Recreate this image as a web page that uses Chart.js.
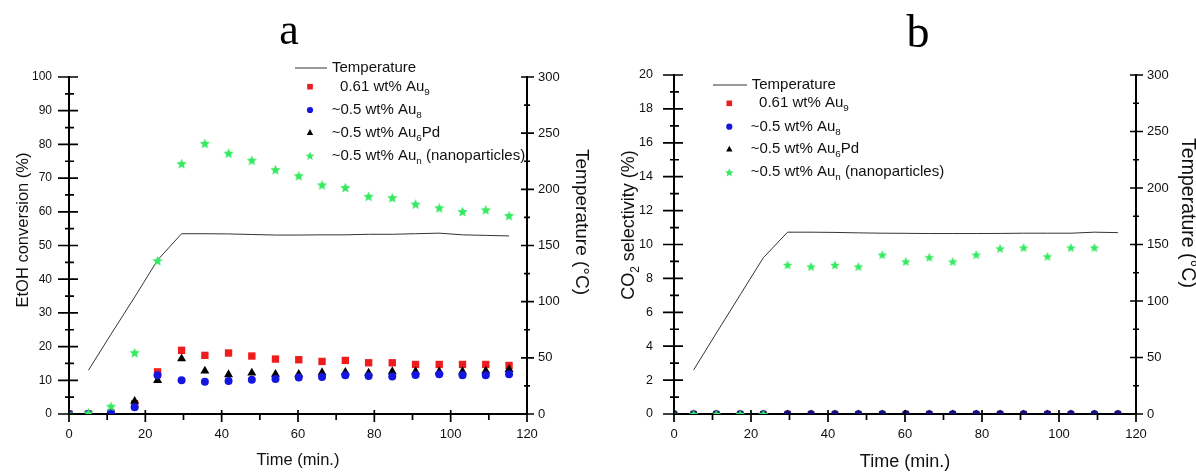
<!DOCTYPE html>
<html><head><meta charset="utf-8">
<script src="https://cdn.jsdelivr.net/npm/chart.js@4/dist/chart.umd.min.js"></script>
<style>
html,body{margin:0;padding:0;background:#fff;width:1196px;height:472px;overflow:hidden}
.wrap{position:absolute;top:0;width:598px;height:472px}
#wa{left:0}#wb{left:598px}
canvas{display:block}
</style></head><body>
<div class="wrap" id="wa"><canvas id="ca" width="598" height="472"></canvas></div>
<div class="wrap" id="wb"><canvas id="cb" width="598" height="472"></canvas></div>
<script>
// ---------- DATA ----------
const timeMin = [0, 5.1, 11, 17.2, 23.2, 29.5, 35.6, 41.8, 47.9, 54.1, 60.2, 66.3, 72.4, 78.5, 84.7, 90.8, 97, 103.1, 109.2, 115.3];
const tempTime = [5.1, 11, 17.2, 23.2, 29.5, 35.6, 41.8, 47.9, 54.1, 60.2, 66.3, 72.4, 78.5, 84.7, 90.8, 97, 103.1, 109.2, 115.3];

// panel a : EtOH conversion (%)
const convAu9   = [0, 0, 0.3, 3.0, 12.5, 18.9, 17.4, 18.1, 17.2, 16.3, 16.1, 15.6, 15.9, 15.2, 15.2, 14.7, 14.7, 14.7, 14.7, 14.4];
const convAu8   = [0, 0, 0.3, 2.0, 11.5, 10.0, 9.6, 9.8, 10.2, 10.4, 10.8, 11.0, 11.5, 11.3, 11.1, 11.6, 11.8, 11.5, 11.5, 11.8];
const convAu6Pd = [0, 0, 0.5, 3.8, 10.0, 16.4, 12.8, 11.7, 12.2, 11.8, 11.8, 12.3, 12.4, 12.2, 12.6, 12.6, 12.6, 12.6, 12.8, 13.2];
const convAuNP  = [0, 0.3, 2.3, 18.2, 45.5, 74.3, 80.3, 77.4, 75.3, 72.5, 70.7, 68.0, 67.2, 64.6, 64.2, 62.3, 61.2, 60.1, 60.6, 58.9];
const tempA     = [39, 71, 104, 137, 160.5, 160.5, 160.3, 159.8, 159.3, 159.3, 159.5, 159.5, 160, 160, 160.5, 161, 159.5, 159, 158.5];

// panel b : CO2 selectivity (%)
const selAu9    = [0, 0, 0, 0, 0, 0, 0, 0, 0, 0, 0, 0, 0, 0, 0, 0, 0, 0, 0, 0];
const selAu8    = [0, 0, 0, 0, 0, 0, 0, 0, 0, 0, 0, 0, 0, 0, 0, 0, 0, 0, 0, 0];
const selAu6Pd  = [0, 0, 0, 0, 0, 0, 0, 0, 0, 0, 0, 0, 0, 0, 0, 0, 0, 0, 0, 0];
const selAuNP   = [0, 0, 0, 0, 0, 8.8, 8.7, 8.8, 8.7, 9.4, 9.0, 9.25, 9.0, 9.4, 9.77, 9.82, 9.3, 9.82, 9.82, null];
const tempB     = [39, 71.6, 105.5, 138.3, 160.9, 160.9, 160.7, 160.3, 160, 159.9, 159.7, 159.7, 159.7, 159.8, 160, 160, 160, 160.9, 160.5];

const xTicks = [0, 20, 40, 60, 80, 100, 120];
const seriesLabels = ['Temperature', '  0.61 wt% Au_9', '~0.5 wt% Au_8', '~0.5 wt% Au_6Pd', '~0.5 wt% Au_n (nanoparticles)'];

// ---------- STYLE ----------
const FONT = '"Liberation Sans", Arial, sans-serif';
const C_RED = '#ee1c1c', C_BLUE = '#1515e0', C_BLACK = '#000000', C_GREEN = '#35ea60', C_LINE = '#333333', C_NAVY = '#101080';

function starPath(ctx, x, y, R, r) {
  ctx.beginPath();
  for (let i = 0; i < 10; i++) {
    const rad = (i % 2 === 0) ? R : r;
    const a = -Math.PI / 2 + i * Math.PI / 5;
    const px = x + rad * Math.cos(a), py = y + rad * Math.sin(a);
    if (i === 0) ctx.moveTo(px, py); else ctx.lineTo(px, py);
  }
  ctx.closePath();
}
function makeStar(R, color) {
  const c = document.createElement('canvas');
  const s = Math.ceil(R * 2 + 2);
  c.width = s; c.height = s;
  const g = c.getContext('2d');
  g.fillStyle = color;
  starPath(g, s / 2, s / 2 + R * 0.1, R, R * 0.45);
  g.fill();
  return c;
}
const starBig = makeStar(5.4, C_GREEN);
const starB = makeStar(5.0, C_GREEN);

function richParts(s) {
  const parts = []; let buf = '';
  for (let i = 0; i < s.length; i++) {
    if (s[i] === '_' && i + 1 < s.length) {
      if (buf) parts.push({ t: buf }); buf = '';
      parts.push({ t: s[i + 1], sub: true }); i++;
    } else buf += s[i];
  }
  if (buf) parts.push({ t: buf });
  return parts;
}
function drawRich(ctx, s, x, y, size, align) {
  const parts = richParts(s), sub = size * 0.66;
  let w = 0;
  parts.forEach(p => { ctx.font = (p.sub ? sub : size) + 'px ' + FONT; p.w = ctx.measureText(p.t).width; w += p.w; });
  let cx = align === 'center' ? x - w / 2 : x;
  ctx.textBaseline = 'middle'; ctx.textAlign = 'left'; ctx.fillStyle = '#111';
  parts.forEach(p => {
    ctx.font = (p.sub ? sub : size) + 'px ' + FONT;
    ctx.fillText(p.t, cx, y + (p.sub ? size * 0.35 : 0));
    cx += p.w;
  });
}

function pts(xs, ys) {
  const out = [];
  for (let i = 0; i < xs.length; i++) if (ys[i] !== null && ys[i] !== undefined) out.push({ x: xs[i], y: ys[i] });
  return out;
}

const decor = {
  id: 'decor',
  afterDraw(chart, args, o) {
    const ctx = chart.ctx, ca = chart.chartArea;
    const sx = chart.scales.x, sy = chart.scales.y, sy1 = chart.scales.y1;
    ctx.save();
    ctx.strokeStyle = '#000'; ctx.lineWidth = 1.7; ctx.beginPath();
    const isMajor = (v, m) => Math.abs(v / m - Math.round(v / m)) < 1e-6;
    for (let v = sx.min; v <= sx.max + 1e-9; v += o.xMinor) {
      const px = sx.getPixelForValue(v), mj = isMajor(v, o.xMajor);
      ctx.moveTo(px, ca.bottom - (mj ? 4 : 1)); ctx.lineTo(px, ca.bottom + (mj ? 8 : 6));
    }
    for (let v = sy.min; v <= sy.max + 1e-9; v += o.yMinor) {
      const py = sy.getPixelForValue(v), mj = isMajor(v, o.yMajor);
      ctx.moveTo(ca.left - (mj ? 11 : 4), py); ctx.lineTo(ca.left + (mj ? 9 : 5), py);
    }
    for (let v = sy1.min; v <= sy1.max + 1e-9; v += 25) {
      const py = sy1.getPixelForValue(v), mj = isMajor(v, 50);
      ctx.moveTo(ca.right - (mj ? 6 : 3), py); ctx.lineTo(ca.right + (mj ? 7 : 3), py);
    }
    ctx.stroke();
    ctx.fillStyle = '#000'; ctx.font = o.letterSize + 'px "Liberation Serif", "Times New Roman", serif';
    ctx.textAlign = 'center'; ctx.textBaseline = 'alphabetic';
    ctx.fillText(o.letter, o.letterX, o.letterY);
    drawRich(ctx, o.xTitle, o.xTitleX, o.xTitleY, o.xTitleSize, 'center');
    ctx.save(); ctx.translate(o.leftX, o.leftY); ctx.rotate(-Math.PI / 2);
    drawRich(ctx, o.leftTitle, 0, 0, o.leftSize, 'center'); ctx.restore();
    ctx.save(); ctx.translate(o.rightX, o.rightY); ctx.rotate(Math.PI / 2);
    drawRich(ctx, o.rightTitle, 0, 0, o.rightSize, 'center'); ctx.restore();
    const L = o.legend;
    ctx.strokeStyle = C_LINE; ctx.lineWidth = 1; ctx.beginPath();
    ctx.moveTo(L.lineX0, L.rows[0]); ctx.lineTo(L.lineX1, L.rows[0]); ctx.stroke();
    drawRich(ctx, seriesLabels[0], L.lineTextX, L.rows[0], L.size, 'left');
    const mx = L.markX;
    ctx.fillStyle = C_RED; ctx.fillRect(mx - 2.8, L.rows[1] - 2.8, 5.6, 5.6);
    ctx.fillStyle = C_BLUE; ctx.beginPath(); ctx.arc(mx, L.rows[2], 3.1, 0, Math.PI * 2); ctx.fill();
    ctx.fillStyle = C_BLACK; ctx.beginPath();
    ctx.moveTo(mx, L.rows[3] - 3.6); ctx.lineTo(mx + 3.2, L.rows[3] + 2.2); ctx.lineTo(mx - 3.2, L.rows[3] + 2.2); ctx.closePath(); ctx.fill();
    ctx.fillStyle = C_GREEN; starPath(ctx, mx, L.rows[4] + 0.5, 4.6, 2.0); ctx.fill();
    for (let i = 1; i < 5; i++) drawRich(ctx, seriesLabels[i], L.textX, L.rows[i], L.size, 'left');
    ctx.restore();
  }
};

function makeChart(id, d, yMax, yStep, leftW, rightW, leftPad, leftFont, topPad, star, r, blueCol, deco) {
  return new Chart(document.getElementById(id), {
    type: 'scatter',
    data: {
      datasets: [
        { label: 'Temperature', type: 'line', data: pts(tempTime, d.temp), yAxisID: 'y1', borderColor: C_LINE, borderWidth: 1, pointRadius: 0, tension: 0, order: 5 },
        { label: '0.61 wt% Au9', data: pts(timeMin, d.s1), yAxisID: 'y', pointStyle: 'rect', pointRadius: r.rect, backgroundColor: C_RED, borderColor: C_RED, borderWidth: 0, order: 4 },
        { label: '~0.5 wt% Au6Pd', data: pts(timeMin, d.s3), yAxisID: 'y', pointStyle: 'triangle', pointRadius: r.tri, backgroundColor: C_BLACK, borderColor: C_BLACK, borderWidth: 0, order: 3 },
        { label: '~0.5 wt% Au8', data: pts(timeMin, d.s2), yAxisID: 'y', pointStyle: 'circle', pointRadius: r.circ, backgroundColor: blueCol, borderColor: blueCol, borderWidth: 0, order: 2 },
        { label: '~0.5 wt% Aun (nanoparticles)', data: pts(timeMin, d.s4), yAxisID: 'y', pointStyle: star, pointRadius: 5, backgroundColor: C_GREEN, order: 1 }
      ]
    },
    options: {
      responsive: false, animation: false, devicePixelRatio: 1,
      layout: { padding: { top: topPad, left: 0, right: 0, bottom: 0 } },
      plugins: { legend: { display: false }, tooltip: { enabled: false }, decor: deco },
      scales: {
        x: {
          type: 'linear', position: 'bottom', min: 0, max: 120,
          afterBuildTicks: s => { s.ticks = xTicks.map(v => ({ value: v })); },
          ticks: { font: { family: FONT, size: 13 }, color: '#111', padding: 13, maxRotation: 0, autoSkip: false },
          grid: { display: false, drawTicks: false },
          border: { display: true, color: '#000', width: 2 },
          afterFit: s => { s.height = 58; }
        },
        y: {
          position: 'left', min: 0, max: yMax,
          ticks: { stepSize: yStep, font: { family: FONT, size: leftFont }, color: '#111', padding: leftPad, autoSkip: false },
          grid: { display: false, drawTicks: false },
          border: { display: true, color: '#000', width: 2 },
          afterFit: s => { s.width = leftW; }
        },
        y1: {
          position: 'right', min: 0, max: 300,
          ticks: { stepSize: 50, font: { family: FONT, size: 13 }, color: '#111', padding: 11, autoSkip: false },
          grid: { display: false, drawTicks: false },
          border: { display: true, color: '#000', width: 2 },
          afterFit: s => { s.width = rightW; }
        }
      }
    },
    plugins: [decor]
  });
}

makeChart('ca', { temp: tempA, s1: convAu9, s2: convAu8, s3: convAu6Pd, s4: convAuNP }, 100, 10, 69, 71, 17, 12, 77, starBig,
  { rect: 5.2, tri: 5.2, circ: 4.0 }, C_BLUE,
  { letter: 'a', letterX: 289, letterY: 44, letterSize: 44,
    xTitle: 'Time (min.)', xTitleX: 298, xTitleY: 460, xTitleSize: 16.5,
    leftTitle: 'EtOH conversion (%)', leftX: 23, leftY: 230, leftSize: 16.5,
    rightTitle: 'Temperature (°C)', rightX: 581, rightY: 222, rightSize: 19,
    xMajor: 20, xMinor: 10, yMajor: 10, yMinor: 5,
    legend: { lineX0: 295, lineX1: 327, lineTextX: 332, markX: 310, textX: 331.7, rows: [68, 86.7, 110, 132.7, 155.7], size: 15 } });

makeChart('cb', { temp: tempB, s1: selAu9, s2: selAu8, s3: selAu6Pd, s4: selAuNP }, 20, 2, 76, 60, 21, 12.5, 75, starB,
  { rect: 4.5, tri: 4.5, circ: 3.8 }, C_NAVY,
  { letter: 'b', letterX: 320, letterY: 47, letterSize: 46,
    xTitle: 'Time (min.)', xTitleX: 307, xTitleY: 462, xTitleSize: 18,
    leftTitle: 'CO_2 selectivity (%)', leftX: 31, leftY: 225, leftSize: 18,
    rightTitle: 'Temperature (°C)', rightX: 589, rightY: 213, rightSize: 19.5,
    xMajor: 20, xMinor: 10, yMajor: 2, yMinor: 1,
    legend: { lineX0: 115, lineX1: 149, lineTextX: 153.7, markX: 131.3, textX: 152.7, rows: [85, 103.3, 126.7, 149.3, 172.3], size: 15 } });
</script>
</body></html>
